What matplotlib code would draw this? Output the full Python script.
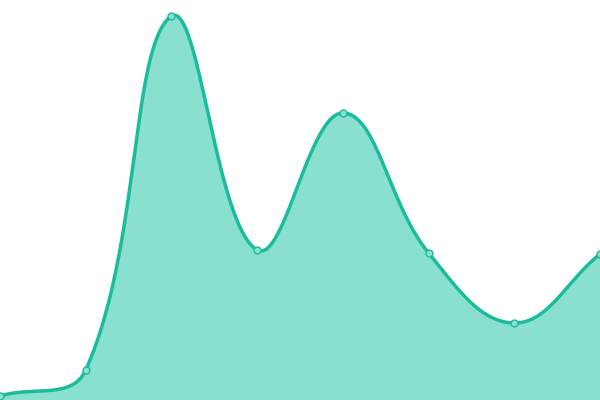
import numpy as np
import matplotlib
matplotlib.use('Agg')
from matplotlib import pyplot as plt

# values
xs = [0, 1, 2, 3, 4, 5, 6, 7]
values = [4, 30, 384, 150, 287, 147, 77, 146]

W, H = 600, 400
tension = 0.4


def control_points(px, py):
	# cardinal spline controls, the way chart.js does it (in pixel space)
	n = len(px)
	ctrl = []
	for i in range(n):
		a = (px[max(i - 1, 0)], py[max(i - 1, 0)])
		b = (px[i], py[i])
		c = (px[min(i + 1, n - 1)], py[min(i + 1, n - 1)])
		d01 = np.hypot(b[0] - a[0], b[1] - a[1])
		d12 = np.hypot(c[0] - b[0], c[1] - b[1])
		s01 = d01 / (d01 + d12)
		s12 = d12 / (d01 + d12)
		fa = tension * s01
		fb = tension * s12
		prev = (b[0] - fa * (c[0] - a[0]), b[1] - fa * (c[1] - a[1]))
		nxt = (b[0] + fb * (c[0] - a[0]), b[1] + fb * (c[1] - a[1]))
		prev = (min(max(prev[0], 0), W), min(max(prev[1], 0), H))
		nxt = (min(max(nxt[0], 0), W), min(max(nxt[1], 0), H))
		ctrl.append((prev, nxt))
	return ctrl


def smooth(x, y, steps=60):
	px = [v * W / (len(x) - 1) for v in x]
	py = list(y)
	ctrl = control_points(px, py)
	ox, oy = [], []
	for i in range(len(px) - 1):
		p0 = (px[i], py[i])
		p1 = ctrl[i][1]
		p2 = ctrl[i + 1][0]
		p3 = (px[i + 1], py[i + 1])
		u = np.linspace(0, 1, steps)
		bx = (1 - u) ** 3 * p0[0] + 3 * (1 - u) ** 2 * u * p1[0] + 3 * (1 - u) * u ** 2 * p2[0] + u ** 3 * p3[0]
		by = (1 - u) ** 3 * p0[1] + 3 * (1 - u) ** 2 * u * p1[1] + 3 * (1 - u) * u ** 2 * p2[1] + u ** 3 * p3[1]
		ox.extend(bx)
		oy.extend(by)
	return np.array(ox) * (len(x) - 1) / W, np.array(oy)


fig = plt.figure(figsize=(6, 4), dpi=100)
ax = fig.add_axes([0, 0, 1, 1])
cx, cy = smooth(xs, values)
ax.fill_between(cx, 0, cy, color='#8ae0cf', linewidth=0)
ax.plot(cx, cy, color='#1abc9c', linewidth=2.5, solid_capstyle='round')
ax.plot(xs, values, linestyle='none', marker='o', markersize=5,
	markerfacecolor='#8ae0cf', markeredgecolor='#1abc9c', markeredgewidth=1, clip_on=False)
ax.set_xlim(0, 7)
ax.set_ylim(0, 400)
ax.axis('off')
fig.savefig('out.png', dpi=100)
